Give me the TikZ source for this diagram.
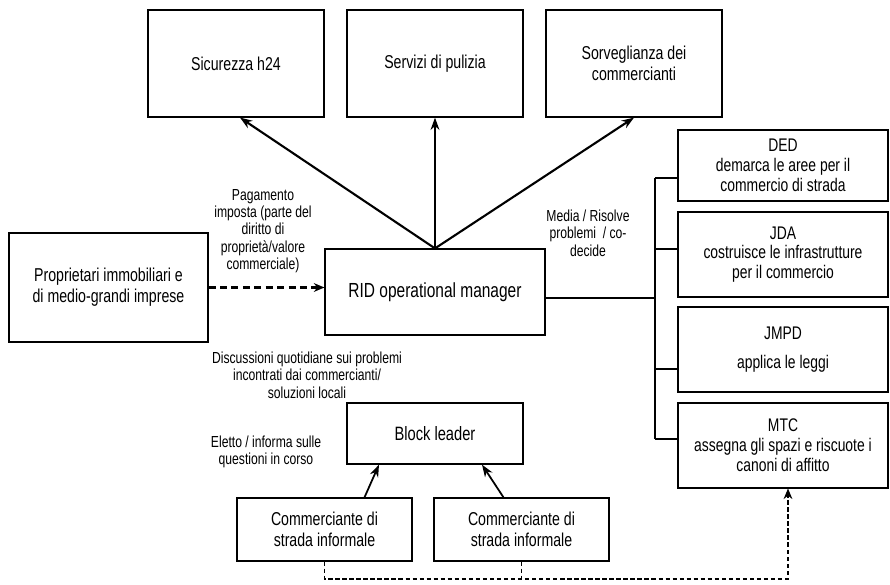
\documentclass[tikz,border=0pt]{standalone}
\usepackage{fontspec}
\setmainfont{Liberation Sans}[FakeStretch=0.76]
\usepackage{tikz}
\usetikzlibrary{positioning,arrows.meta}

\begin{document}
\begin{tikzpicture}[x=0.02cm, y=-0.02cm, box/.style={draw, line width=0.7pt, align=center, inner sep=2pt, font=\fontsize{10.6}{11.8}\selectfont}, topbox/.style={box, minimum width=3.52cm, minimum height=2.14cm}, agency/.style={box, line width=0.6pt, minimum width=4.2cm, minimum height=1.7cm, font=\fontsize{10.4}{11.3}\selectfont}, trader/.style={box, minimum width=3.5cm, minimum height=1.26cm}, lbl/.style={align=center, inner sep=0pt, font=\fontsize{9.1}{9.9}\selectfont}, arrow/.style={-{Stealth[length=7pt,width=5pt]}, line width=1.2pt}, dasharrow/.style={-{Stealth[length=6pt,width=5pt]}, line width=1.2pt, dash pattern=on 4pt off 2.5pt}, thindash/.style={line width=0.8pt, dash pattern=on 2.5pt off 1.5pt}]
\useasboundingbox (0,0) rectangle (890,585);
% services
\node[topbox] (sic) at (236,63.5) {Sicurezza h24};
\node[topbox] (pul) at (435,63.5) {Servizi di pulizia};
\node[topbox] (sorv) at (634,63.5) {Sorveglianza dei\\commercianti};
% central actors
\node[box, minimum width=4.4cm, minimum height=1.72cm, font=\fontsize{11.6}{13}\selectfont] (rid) at (435,292) {RID operational manager};
\node[box, minimum width=3.98cm, minimum height=2.18cm] (prop) at (108.5,287.5) {Proprietari immobiliari e\\di medio-grandi imprese};
\node[box, minimum width=3.52cm, minimum height=1.22cm, font=\fontsize{11}{13}\selectfont] (block) at (435,433.5) {Block leader};
\node[trader] (comm1) at (324.5,529.5) {Commerciante di\\strada informale};
\node[trader] (comm2) at (521.5,529.5) {Commerciante di\\strada informale};
% agencies
\node[agency, minimum height=1.42cm] (ded) at (783,165.5) {DED\\demarca le aree per il\\commercio di strada};
\node[agency] (jda) at (783,254.5) {JDA\\costruisce le infrastrutture\\per il commercio};
\node[agency] (jmpd) at (783,349.5) {JMPD\\[5pt]applica le leggi};
\node[agency] (mtc) at (783,445.5) {MTC\\assegna gli spazi e riscuote i\\canoni di affitto};
% labels
\node[lbl] (lpag) at (263,231) {Pagamento\\imposta (parte del\\diritto di\\propriet\`a/valore\\commerciale)};
\node[lbl] (lmed) at (588,233) {Media / Risolve\\problemi~ / co-\\decide};
\node[lbl] (ldis) at (307,375) {Discussioni quotidiane sui problemi\\incontrati dai commercianti/\\soluzioni locali};
\node[lbl] (lele) at (266,452) {Eletto / informa sulle\\questioni in corso};
% connectors
\draw[arrow] (rid.north) -- ([xshift=0.08cm]sic.south);
\draw[arrow] (rid.north) -- (pul.south);
\draw[arrow] (rid.north) -- (sorv.south);
\draw[dasharrow] (prop.east) -- (prop.east -| rid.west);
\coordinate (tded) at (655,178);
\coordinate (tjda) at (655,249);
\coordinate (trid) at (655,298);
\coordinate (tjmpd) at (655,369);
\coordinate (tmtc) at (655,439);
\draw[line width=0.6pt] (tded) -- (tmtc);
\draw[line width=0.6pt] (trid) -- (trid -| rid.east);
\draw[line width=0.6pt] (tded) -- (tded -| ded.west);
\draw[line width=0.6pt] (tjda) -- (tjda -| jda.west);
\draw[line width=0.6pt] (tjmpd) -- (tjmpd -| jmpd.west);
\draw[line width=0.6pt] (tmtc) -- (tmtc -| mtc.west);
\draw[arrow, line width=1pt] ([xshift=0.8cm]comm1.north) -- ([xshift=-1.12cm]block.south);
\draw[arrow, line width=1pt] ([xshift=-0.36cm]comm2.north) -- ([xshift=0.94cm]block.south);
\coordinate (jct) at (788,579);
\draw[thindash, -{Stealth[length=6pt,width=5pt]}] (comm1.south) -- (comm1.south |- jct) -- (jct) -- (jct |- mtc.south);
\draw[thindash] (comm2.south) -- (comm2.south |- jct);
\end{tikzpicture}
\end{document}
